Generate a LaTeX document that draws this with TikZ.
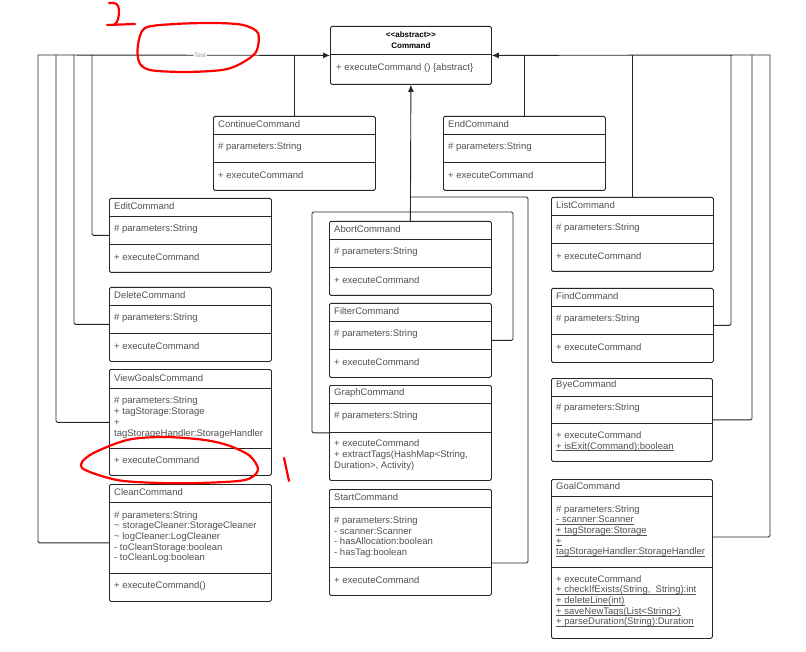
\documentclass[tikz,border=0pt]{standalone}
\usepackage{fontspec}
\newfontfamily\umlfont{Liberation Sans}
\usetikzlibrary{arrows.meta}
\newcommand\ulmember[1]{\underline{\smash{#1}}}

\begin{document}
\begin{tikzpicture}[x=1pt,y=-1pt,
  classbox/.style={draw=black!85,line width=0.8pt,rounded corners=1.5pt,anchor=north west,inner sep=0pt},
  divider/.style={draw=black!85,line width=0.8pt},
  member/.style={anchor=west,inner sep=0pt,align=left,text=black!68,font=\umlfont\fontsize{9.5}{10.7}\selectfont},
  generalize/.style={draw=black!85,line width=0.9pt,rounded corners=1.5pt},
  inherits/.style={generalize,-{Latex[length=7pt,width=6pt]}},
  testlabel/.style={fill=white,inner sep=0.5pt,text=black!40,font=\umlfont\fontsize{6.5}{7}\selectfont},
  scribble/.style={draw=red,line width=2.2pt,line cap=round,line join=round}
]
  \path[use as bounding box,fill=white] (0,0) rectangle (806,652);

  % abstract base class
  \node[classbox,minimum width=161pt,minimum height=58pt] (command) at (330,26) {};
  \draw[divider] ([yshift=-28pt]command.north west) -- ([yshift=-28pt]command.north east);
  \node[member,anchor=center,align=center,text=black,font=\umlfont\bfseries\fontsize{8}{11}\selectfont]
    (command-t) at ([yshift=-14pt]command.north) {{<}{<}abstract{>}{>}\\Command};
  \node[member] (command-o) at ([shift={(6pt,-42pt)}]command.north west) {+ executeCommand () \{abstract\}};

  % plain commands
  \foreach \n/\x/\y/\t in {continue/213/116/ContinueCommand, endcmd/443/116/EndCommand,
      edit/109/198/EditCommand, delete/109/287/DeleteCommand, abort/329/221/AbortCommand,
      filter/329/303/FilterCommand, list/551/197/ListCommand, find/551/288/FindCommand} {
    \node[classbox,minimum width=162pt,minimum height=74pt] (\n) at (\x,\y) {};
    \draw[divider] ([yshift=-18pt]\n.north west) -- ([yshift=-18pt]\n.north east);
    \draw[divider] ([yshift=-46pt]\n.north west) -- ([yshift=-46pt]\n.north east);
    \node[member] (\n-t) at ([shift={(5pt,-8.5pt)}]\n.north west) {\t};
    \node[member] (\n-a) at ([shift={(5pt,-31pt)}]\n.north west) {\# parameters:String};
    \node[member] (\n-o) at ([shift={(5pt,-59pt)}]\n.north west) {+ executeCommand};
  }

  % commands with more members
  \node[classbox,minimum width=162pt,minimum height=106pt] (viewgoals) at (109,369) {};
  \draw[divider] ([yshift=-19pt]viewgoals.north west) -- ([yshift=-19pt]viewgoals.north east);
  \draw[divider] ([yshift=-79pt]viewgoals.north west) -- ([yshift=-79pt]viewgoals.north east);
  \node[member] (viewgoals-t) at ([shift={(5pt,-9pt)}]viewgoals.north west) {ViewGoalsCommand};
  \node[member] (viewgoals-a) at ([shift={(5pt,-48.5pt)}]viewgoals.north west)
    {\# parameters:String\\+ tagStorage:Storage\\+\\tagStorageHandler:StorageHandler};
  \node[member] (viewgoals-o) at ([shift={(5pt,-91.5pt)}]viewgoals.north west) {+ executeCommand};

  \node[classbox,minimum width=162pt,minimum height=117pt] (clean) at (109,484) {};
  \draw[divider] ([yshift=-18pt]clean.north west) -- ([yshift=-18pt]clean.north east);
  \draw[divider] ([yshift=-89pt]clean.north west) -- ([yshift=-89pt]clean.north east);
  \node[member] (clean-t) at ([shift={(5pt,-8.5pt)}]clean.north west) {CleanCommand};
  \node[member] (clean-a) at ([shift={(5pt,-53pt)}]clean.north west)
    {\# parameters:String\\\textasciitilde{} storageCleaner:StorageCleaner\\\textasciitilde{} logCleaner:LogCleaner\\- toCleanStorage:boolean\\- toCleanLog:boolean};
  \node[member] (clean-o) at ([shift={(5pt,-102pt)}]clean.north west) {+ executeCommand()};

  \node[classbox,minimum width=162pt,minimum height=95pt] (graph) at (329,385) {};
  \draw[divider] ([yshift=-18pt]graph.north west) -- ([yshift=-18pt]graph.north east);
  \draw[divider] ([yshift=-47pt]graph.north west) -- ([yshift=-47pt]graph.north east);
  \node[member] (graph-t) at ([shift={(5pt,-8.5pt)}]graph.north west) {GraphCommand};
  \node[member] (graph-a) at ([shift={(5pt,-31pt)}]graph.north west) {\# parameters:String};
  \node[member] (graph-o) at ([shift={(5pt,-70pt)}]graph.north west)
    {+ executeCommand\\+ extractTags(HashMap<String,\\Duration>, Activity)};

  \node[classbox,minimum width=162pt,minimum height=106pt] (start) at (329,489) {};
  \draw[divider] ([yshift=-18pt]start.north west) -- ([yshift=-18pt]start.north east);
  \draw[divider] ([yshift=-78pt]start.north west) -- ([yshift=-78pt]start.north east);
  \node[member] (start-t) at ([shift={(5pt,-8.5pt)}]start.north west) {StartCommand};
  \node[member] (start-a) at ([shift={(5pt,-48pt)}]start.north west)
    {\# parameters:String\\- scanner:Scanner\\- hasAllocation:boolean\\- hasTag:boolean};
  \node[member] (start-o) at ([shift={(5pt,-91pt)}]start.north west) {+ executeCommand};

  \node[classbox,minimum width=161pt,minimum height=83pt] (bye) at (551,378) {};
  \draw[divider] ([yshift=-18pt]bye.north west) -- ([yshift=-18pt]bye.north east);
  \draw[divider] ([yshift=-45pt]bye.north west) -- ([yshift=-45pt]bye.north east);
  \node[member] (bye-t) at ([shift={(5pt,-7.5pt)}]bye.north west) {ByeCommand};
  \node[member] (bye-a) at ([shift={(5pt,-30.5pt)}]bye.north west) {\# parameters:String};
  \node[member] (bye-o) at ([shift={(5pt,-63.5pt)}]bye.north west)
    {+ executeCommand\\\ulmember{+ isExit(Command):boolean}};

  \node[classbox,minimum width=161pt,minimum height=159pt] (goal) at (551,479) {};
  \draw[divider] ([yshift=-17pt]goal.north west) -- ([yshift=-17pt]goal.north east);
  \draw[divider] ([yshift=-88pt]goal.north west) -- ([yshift=-88pt]goal.north east);
  \node[member] (goal-t) at ([shift={(5pt,-7.5pt)}]goal.north west) {GoalCommand};
  \node[member] (goal-a) at ([shift={(5pt,-52pt)}]goal.north west)
    {\# parameters:String\\\ulmember{- scanner:Scanner}\\\ulmember{+ tagStorage:Storage}\\\ulmember{+}\\\ulmember{tagStorageHandler:StorageHandler}};
  \node[member] (goal-o) at ([shift={(5pt,-122pt)}]goal.north west)
    {+ executeCommand\\\ulmember{+ checkIfExists(String,\ \ String):int}\\\ulmember{+ deleteLine(int)}\\\ulmember{+ saveNewTags(List<String>)}\\\ulmember{+ parseDuration(String):Duration}};

  % bus corners
  \coordinate (busl1) at (38,55);
  \coordinate (busl2) at (56,55);
  \coordinate (busl3) at (74,55);
  \coordinate (busl4) at (92,55);
  \coordinate (busr1) at (770,55);
  \coordinate (busr2) at (752,55);
  \coordinate (busr3) at (731,55);
  \coordinate (midl) at (312,212);
  \coordinate (midr) at (513,212);
  \coordinate (midrr) at (528,197);

  % generalizations
  \draw[inherits] (busl1) -- node[testlabel,pos=0.555] {Test} (command.west);
  \draw[generalize] (clean.west) -| (busl1);
  \draw[generalize] (viewgoals.west) -| (busl2);
  \draw[generalize] (delete.west) -| (busl3);
  \draw[generalize] (edit.west) -| (busl4);
  \draw[generalize] (continue.north) -- (continue.north |- command.west);

  \draw[inherits] (busr1) -- (command.east);
  \draw[generalize] (endcmd.north) -- (endcmd.north |- command.east);
  \draw[generalize] (list.north) -- (list.north |- command.east);
  \draw[generalize] (find.east) -| (busr3);
  \draw[generalize] (bye.east) -| (busr2);
  \draw[generalize] ([yshift=-58pt]goal.north east) -| (busr1);

  \draw[inherits] (abort.north) -- (command.south);
  \draw[generalize] (graph.west) -| (midl) -- (abort.north |- midl);
  \draw[generalize] (filter.east) -| (midr) -- (abort.north |- midr);
  \draw[generalize] ([yshift=-74pt]start.north east) -| (midrr) -- (abort.north |- midrr);

  % red marks
  \draw[scribble] (109,3) .. controls (115,2) and (119,4) .. (119,10)
    .. controls (119,17) and (118,22) .. (115,24);
  \draw[scribble] (107,25) -- (135,24);
  \draw[scribble] plot[smooth cycle] coordinates {(145,28) (175,24) (215,23) (243,25) (258,33)
    (256,52) (240,64) (222,70) (185,72) (150,70) (139,62) (138,45)};
  \draw[scribble] plot[smooth cycle] coordinates {(127,440) (165,437) (205,440) (230,446) (250,456)
    (258,470) (245,480) (200,483) (160,483) (117,480) (82,468) (90,455)};
  \draw[scribble] (284,458) -- (289,481);
\end{tikzpicture}
\end{document}
